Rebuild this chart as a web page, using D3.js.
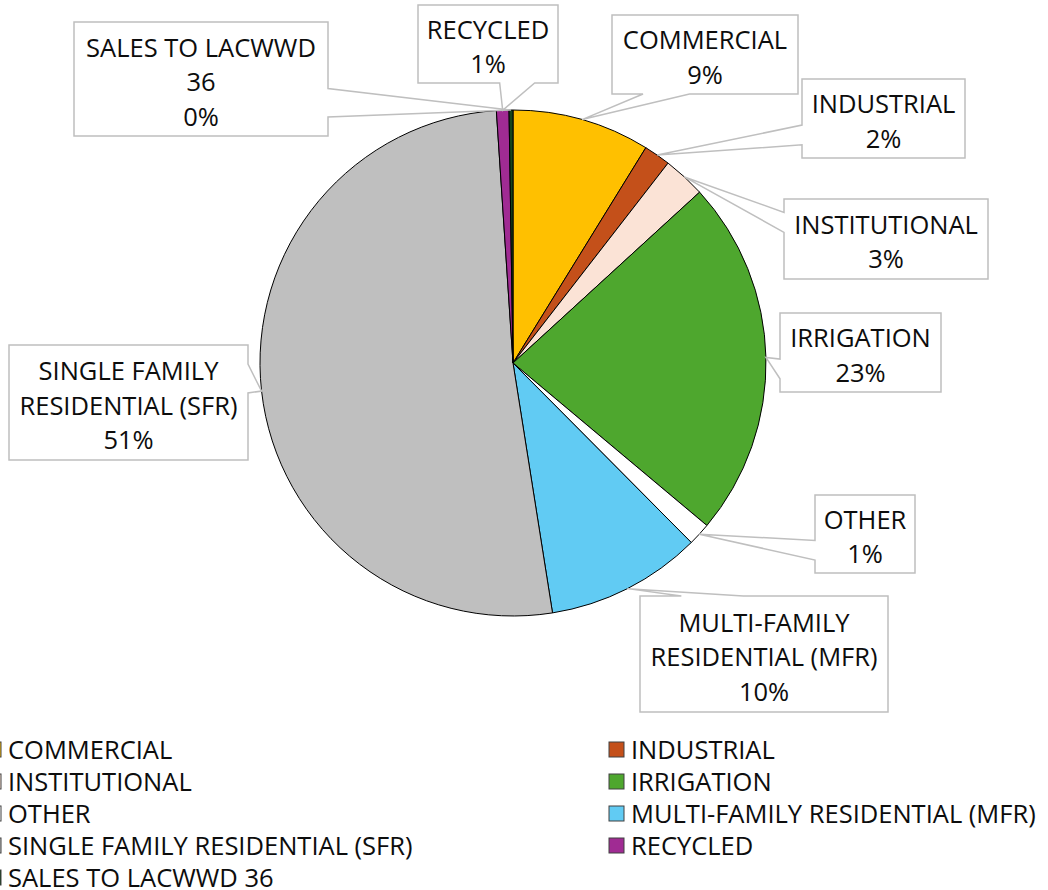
<!DOCTYPE html>
<html>
<head>
<meta charset="utf-8">
<script src="https://cdn.jsdelivr.net/npm/d3@7"></script>
<style>
  body { margin: 0; background: #fff; }
  svg { display: block; font-family: "Open Sans", "Noto Sans", sans-serif; }
</style>
</head>
<body>
<svg id="chart" width="1048" height="890"></svg>
<script>
// Water use by customer class
const categories = ["COMMERCIAL", "INDUSTRIAL", "INSTITUTIONAL", "IRRIGATION", "OTHER",
  "MULTI-FAMILY RESIDENTIAL (MFR)", "SINGLE FAMILY RESIDENTIAL (SFR)", "RECYCLED", "SALES TO LACWWD 36"];
const values = [1267, 245, 389, 3298, 209, 1433, 7409, 115, 36];
const colors = ["#ffc000", "#c4501a", "#fbe3d6", "#4ea72e", "#ffffff",
  "#61cbf3", "#bfbfbf", "#a02b93", "#17451c"];
// data label text, wrapped like the original
const labelLines = [["COMMERCIAL"], ["INDUSTRIAL"], ["INSTITUTIONAL"], ["IRRIGATION"], ["OTHER"],
  ["MULTI-FAMILY", "RESIDENTIAL (MFR)"], ["SINGLE FAMILY", "RESIDENTIAL (SFR)"], ["RECYCLED"],
  ["SALES TO LACWWD", "36"]];
// callout boxes [x, y, w, h]
const labelBoxes = [[612, 15, 186, 79], [802, 79, 163, 79], [784, 199, 204, 80], [780, 313, 161, 79],
  [815, 495, 100, 78], [640, 596, 248, 116], [9, 345, 239, 115], [418, 5, 140, 78], [74, 22, 254, 114]];

const cx = 513, cy = 363, r = 253;
const fontSize = 25.5, lineH = 34.5;

const svg = d3.select("#chart");
const total = d3.sum(values);

const pie = d3.pie().sort(null).value(d => d);
const arcs = pie(values);
const arc = d3.arc().innerRadius(0).outerRadius(r);

const g = svg.append("g").attr("transform", `translate(${cx},${cy})`);
g.selectAll("path")
  .data(arcs)
  .enter()
  .append("path")
  .attr("d", arc)
  .attr("fill", (d, i) => colors[i])
  .attr("stroke", "#000")
  .attr("stroke-width", 1);

// wedge rectangle callout, like Excel's
function callout(x, y, w, h, tx, ty) {
  const dx = (tx - (x + w / 2)) / w, dy = (ty - (y + h / 2)) / h;
  let pts;
  if (Math.abs(dx) > Math.abs(dy)) {
    const f = ty < y + h / 2 ? [2 / 12, 5 / 12] : [7 / 12, 10 / 12];
    if (dx < 0) {
      pts = [[x, y], [x + w, y], [x + w, y + h], [x, y + h], [x, y + h * f[1]], [tx, ty], [x, y + h * f[0]]];
    } else {
      pts = [[x, y], [x + w, y], [x + w, y + h * f[0]], [tx, ty], [x + w, y + h * f[1]], [x + w, y + h], [x, y + h]];
    }
  } else {
    const f = tx < x + w / 2 ? [2 / 12, 5 / 12] : [7 / 12, 10 / 12];
    if (dy < 0) {
      pts = [[x, y], [x + w * f[0], y], [tx, ty], [x + w * f[1], y], [x + w, y], [x + w, y + h], [x, y + h]];
    } else {
      pts = [[x, y], [x + w, y], [x + w, y + h], [x + w * f[1], y + h], [tx, ty], [x + w * f[0], y + h], [x, y + h]];
    }
  }
  return "M" + pts.map(p => p.join(",")).join("L") + "Z";
}

const labels = svg.append("g");
arcs.forEach((a, i) => {
  const mid = (a.startAngle + a.endAngle) / 2;
  const tx = cx + r * Math.sin(mid), ty = cy - r * Math.cos(mid);
  const [bx, by, bw, bh] = labelBoxes[i];
  labels.append("path")
    .attr("d", callout(bx, by, bw, bh, tx, ty))
    .attr("fill", "#fff")
    .attr("stroke", "#bfbfbf")
    .attr("stroke-width", 1.5);
  const lines = labelLines[i].concat([Math.round(values[i] / total * 100) + "%"]);
  const top = by + bh / 2 - (lines.length - 1) * lineH / 2;
  lines.forEach((t, k) => {
    labels.append("text")
      .attr("x", bx + bw / 2)
      .attr("y", top + k * lineH + 12)
      .attr("text-anchor", "middle")
      .style("font-size", fontSize + "px")
      .attr("fill", "#0d0d0d")
      .text(t);
  });
});

// legend, two columns
const legend = svg.append("g");
const item = legend.selectAll("g")
  .data(categories)
  .enter()
  .append("g")
  .attr("transform", (d, i) => `translate(${-14 + (i % 2) * 623},${742 + Math.floor(i / 2) * 32})`);
item.append("rect")
  .attr("width", 15)
  .attr("height", 15)
  .attr("fill", (d, i) => colors[i])
  .attr("stroke", "#404040")
  .attr("stroke-width", 1);
item.append("text")
  .attr("x", 22)
  .attr("y", 16.5)
  .style("font-size", fontSize + "px")
  .attr("fill", "#0d0d0d")
  .text(d => d);
</script>
</body>
</html>
